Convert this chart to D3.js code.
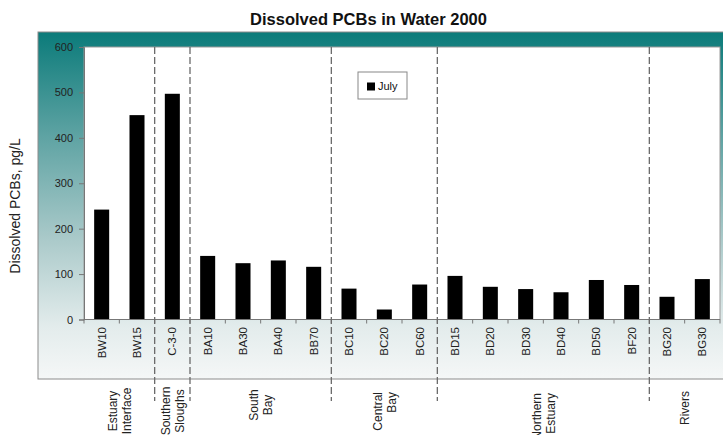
<!DOCTYPE html>
<html>
<head>
<meta charset="utf-8">
<script src="https://cdn.jsdelivr.net/npm/d3@7"></script>
<style>
  html, body { margin: 0; padding: 0; background: #ffffff; }
  svg { display: block; font-family: "Liberation Sans", Arial, Helvetica, sans-serif; }
</style>
</head>
<body>
<svg id="chart" width="723" height="435"></svg>
<script>
// ---- data ----
const categories = ["BW10","BW15","C-3-0","BA10","BA30","BA40","BB70","BC10","BC20","BC60",
                    "BD15","BD20","BD30","BD40","BD50","BF20","BG20","BG30"];
const julyValues = [242, 450, 497, 140, 124, 130, 116, 68, 22, 77,
                    96, 72, 67, 60, 87, 76, 50, 89];
const groupNames = [["Estuary","Interface"],["Southern","Sloughs"],["South","Bay"],
                    ["Central","Bay"],["Northern","Estuary"],["Rivers"]];
const groupSizes = [2, 1, 4, 3, 6, 2];
const yTicks = [0, 100, 200, 300, 400, 500, 600];
const seriesName = "July";
const titleText = "Dissolved PCBs in Water 2000";
const yLabelText = "Dissolved PCBs, pg/L";

// ---- layout ----
const svg = d3.select("#chart");
const plot = {left: 84, right: 720, top: 47, bottom: 319.5};
const groupAnchor = ["middle","middle","middle","end","end","middle"];
const groupY = [411, 411, 405, 392, 393, 408];

const defs = svg.append("defs");
const grad = defs.append("linearGradient").attr("id","bg").attr("x1",0).attr("y1",0).attr("x2",0).attr("y2",1);
grad.append("stop").attr("offset","0%").attr("stop-color","#0b7b7a");
grad.append("stop").attr("offset","30%").attr("stop-color","#5ea3a3");
grad.append("stop").attr("offset","60%").attr("stop-color","#abcaca");
grad.append("stop").attr("offset","85%").attr("stop-color","#e3ecec");
grad.append("stop").attr("offset","100%").attr("stop-color","#f5f7f7");

// outer frame
svg.append("rect").attr("x",38).attr("y",32).attr("width",700).attr("height",347)
  .attr("fill","url(#bg)").attr("stroke","#8c8c8c").attr("stroke-width",1);

// plot area
svg.append("rect").attr("x",plot.left).attr("y",plot.top)
  .attr("width",plot.right-plot.left).attr("height",plot.bottom-plot.top)
  .attr("fill","#ffffff").attr("stroke","#9a9a9a").attr("stroke-width",1);

// title
svg.append("text").attr("x",368.5).attr("y",25).attr("text-anchor","middle")
  .attr("font-size",16.5).attr("font-weight","bold").attr("fill","#111").text(titleText);

// scales
const x = d3.scaleBand().domain(categories).range([plot.left, plot.right])
  .paddingInner(0.575).paddingOuter(0.2875);
const y = d3.scaleLinear().domain([0, 600]).range([plot.bottom, plot.top]);
const step = x.step();
const bandStart = c => x(c) - x.paddingOuter() * step;

// bars
svg.append("g").selectAll("rect").data(categories).join("rect")
  .attr("x", c => x(c)).attr("width", x.bandwidth())
  .attr("y", (c,i) => y(julyValues[i]))
  .attr("height", (c,i) => y(0) - y(julyValues[i]))
  .attr("fill","#000");

// y axis
const yAxis = svg.append("g").attr("transform",`translate(${plot.left},0)`)
  .call(d3.axisLeft(y).tickValues(yTicks).tickSize(5).tickPadding(6));
yAxis.select(".domain").attr("stroke","#777");
yAxis.selectAll(".tick line").attr("stroke","#777");
yAxis.selectAll(".tick text").attr("font-size",11).attr("fill","#222")
  .attr("font-family",'"Liberation Sans", Arial, sans-serif');

// x axis line
svg.append("line").attr("x1",plot.left).attr("x2",plot.right)
  .attr("y1",y(0)).attr("y2",y(0)).attr("stroke","#777");
// x ticks at band boundaries
const bounds = categories.map(bandStart).concat([plot.right]);
svg.append("g").selectAll("line").data(bounds).join("line")
  .attr("x1",d=>d).attr("x2",d=>d).attr("y1",y(0)).attr("y2",y(0)+4)
  .attr("stroke","#777");

// category labels
svg.append("g").selectAll("text").data(categories).join("text")
  .attr("transform", c => `translate(${x(c)+x.bandwidth()/2},327) rotate(-90)`)
  .attr("text-anchor","end").attr("dy","0.35em")
  .attr("font-size",11.5).attr("fill","#222").text(c => c);

// group dividers & labels
let idx = 0;
const dividers = [];
groupSizes.forEach((n, gi) => {
  const x0 = bandStart(categories[idx]);
  const x1 = idx + n < categories.length ? bandStart(categories[idx+n]) : plot.right;
  if (gi > 0) dividers.push(x0);
  const cx = (x0 + x1) / 2;
  const lines = groupNames[gi];
  const gap = 14;
  lines.forEach((t, li) => {
    const lx = cx + (li - (lines.length - 1) / 2) * gap;
    svg.append("text")
      .attr("transform",`translate(${lx},${groupY[gi]}) rotate(-90)`)
      .attr("text-anchor", groupAnchor[gi]).attr("dy","0.35em")
      .attr("font-size",12).attr("fill","#222").text(t);
  });
  idx += n;
});
svg.append("g").selectAll("line").data(dividers).join("line")
  .attr("x1",d=>d).attr("x2",d=>d).attr("y1",plot.top).attr("y2",401)
  .attr("stroke","#6a6a6a").attr("stroke-width",1.3).attr("stroke-dasharray","7,3");

// legend
const lg = svg.append("g").attr("transform","translate(358,72)");
lg.append("rect").attr("width",49).attr("height",27).attr("fill","#fff").attr("stroke","#888");
lg.append("rect").attr("x",9).attr("y",10.5).attr("width",8).attr("height",8).attr("fill","#000");
lg.append("text").attr("x",20).attr("y",14.5).attr("dy","0.35em").attr("font-size",11)
  .attr("fill","#111").text(seriesName);

// y label
svg.append("text").attr("transform","translate(15,206) rotate(-90)")
  .attr("text-anchor","middle").attr("dy","0.35em").attr("font-size",14)
  .attr("fill","#222").text(yLabelText);
</script>
</body>
</html>
